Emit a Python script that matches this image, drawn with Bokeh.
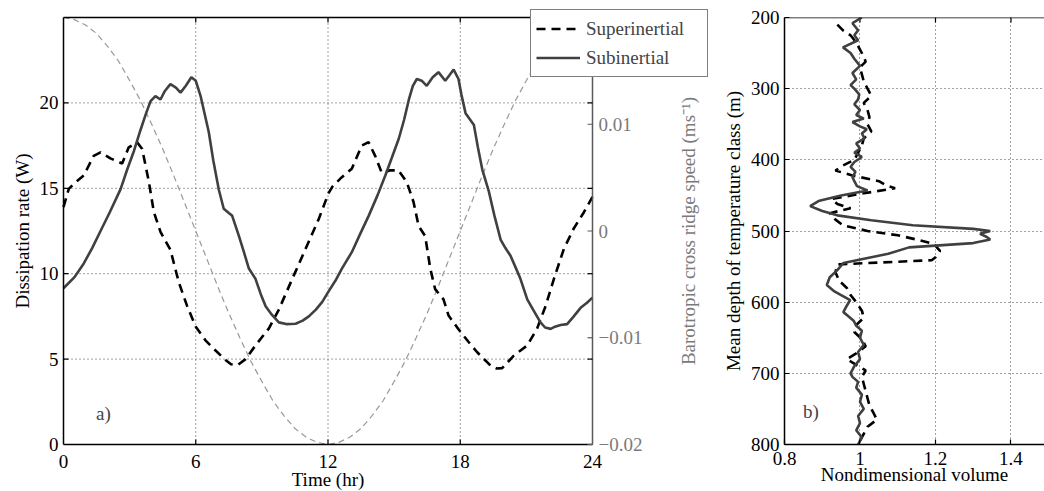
import math
from bokeh.plotting import figure
from bokeh.layouts import row
from bokeh.models import (Range1d, FixedTicker, CustomJSTickFormatter,
                          Legend, LegendItem, Label, Span)
from bokeh.core.properties import value
from bokeh.embed import file_html
from bokeh.resources import INLINE

# ---------------- data: panel a ----------------
sub_t = [0, 0.5, 0.92, 1.3, 1.68, 2.1, 2.59, 2.89, 3.2, 3.49, 3.75, 3.95, 4.17, 4.4, 4.6,
         4.85, 5.1, 5.31, 5.55, 5.8, 6.0, 6.22, 6.59, 6.8, 7.05, 7.27, 7.5, 7.65, 7.96, 8.2,
         8.41, 8.71, 8.95, 9.17, 9.45, 9.77, 10.1, 10.53, 10.85, 11.13, 11.45, 11.74, 12.02,
         12.34, 12.63, 13.08, 13.45, 13.85, 14.25, 14.6, 14.9, 15.21, 15.45, 15.67, 15.85,
         16.03, 16.25, 16.48, 16.75, 17.01, 17.32, 17.5, 17.7, 17.92, 18.05, 18.24, 18.62,
         18.8, 19.0, 19.3, 19.55, 19.83, 20.05, 20.28, 20.5, 20.73, 21.04, 21.35, 21.64,
         21.85, 22.1, 22.3, 22.55, 22.85, 23.15, 23.46, 23.75, 24.0]
sub_w = [9.15, 9.8, 10.6, 11.5, 12.5, 13.6, 14.95, 16.1, 17.2, 18.4, 19.4, 20.1, 20.4, 20.2, 20.7,
         21.1, 20.9, 20.6, 21.0, 21.5, 21.3, 20.4, 18.3, 16.6, 14.9, 13.8, 13.55, 13.4, 12.2, 11.2,
         10.3, 9.7, 8.8, 8.1, 7.6, 7.15, 7.05, 7.07, 7.25, 7.5, 7.9, 8.35, 8.95,
         9.6, 10.3, 11.26, 12.3, 13.4, 14.6, 15.75, 16.8, 17.9, 19.0, 20.2, 21.0,
         21.4, 21.3, 21.0, 21.5, 21.8, 21.3, 21.6, 21.95, 21.4, 20.5, 19.4, 18.7,
         17.4, 16.1, 14.8, 13.4, 12.0, 11.5, 11.05, 10.4, 9.7, 8.5, 7.8, 7.15,
         6.85, 6.77, 6.9, 7.0, 7.05, 7.5, 8.0, 8.3, 8.6]

sup_t = [0, 0.24, 0.5, 0.92, 1.37, 1.68, 2.13, 2.66, 2.96, 3.34, 3.57, 3.87, 4.1, 4.4, 4.85,
         5.23, 5.61, 6.0, 6.44, 6.9, 7.35, 7.6, 7.9, 8.26, 8.71, 9.32, 9.77, 10.38, 10.98,
         11.58, 12.02, 12.2, 12.63, 13.08, 13.53, 13.84, 14.14, 14.44, 14.82, 15.2, 15.58,
         15.88, 16.11, 16.41, 16.64, 16.86, 17.24, 17.47, 17.92, 18.38, 18.77, 19.37, 19.65,
         19.9, 20.43, 21.04, 21.49, 21.87, 22.25, 22.7, 23.15, 23.61, 24.0]
sup_w = [13.9, 14.97, 15.3, 15.75, 16.9, 17.1, 16.75, 16.45, 17.4, 17.7, 17.3, 15.4, 13.6, 12.45, 11.4,
         9.5, 8.1, 6.9, 6.1, 5.5, 4.95, 4.7, 4.65, 5.0, 5.8, 6.8, 7.9, 9.7, 11.45,
         13.2, 14.7, 15.1, 15.65, 16.15, 17.5, 17.7, 16.9, 15.9, 16.05, 16.05, 15.35,
         14.2, 12.8, 12.2, 10.3, 9.1, 8.5, 7.55, 6.75, 6.0, 5.4, 4.63, 4.45,
         4.47, 5.2, 5.8, 6.8, 8.1, 9.7, 11.45, 12.65, 13.6, 14.5]

speed_t = [0, 0.5, 1, 1.5, 2, 2.5, 3, 3.5, 4, 4.5, 5, 5.5, 6, 6.5, 7, 7.5, 8, 8.5, 9, 9.5, 10,
           10.5, 11, 11.5, 12, 12.5, 13, 13.5, 14, 14.5, 15, 15.5, 16, 16.5, 17, 17.5, 18,
           18.5, 19, 19.5, 20, 20.5, 21, 21.5, 22, 22.5, 23, 23.5, 24]
speed_v = [0.0200, 0.0198, 0.0193, 0.0185, 0.0173, 0.0159, 0.0141, 0.0122, 0.0100, 0.0077,
           0.0052, 0.0026, 0.0, -0.0026, -0.0052, -0.0077, -0.0100, -0.0122, -0.0141, -0.0159,
           -0.0173, -0.0185, -0.0193, -0.0198, -0.0200, -0.0198, -0.0193, -0.0185, -0.0173,
           -0.0159, -0.0141, -0.0122, -0.0100, -0.0077, -0.0052, -0.0026, 0.0, 0.0026, 0.0052,
           0.0077, 0.0100, 0.0122, 0.0141, 0.0159, 0.0173, 0.0185, 0.0193, 0.0198, 0.0200]

time_ticks = [0, 6, 12, 18, 24]
time_tick_labels = ["0", "6", "12", "18", "24"]
diss_ticks = [0, 5, 10, 15, 20]
diss_tick_labels = ["0", "5", "10", "15", "20"]
speed_ticks = [-0.02, -0.01, 0, 0.01]
speed_tick_labels = ["\u22120.02", "\u22120.01", "0", "0.01"]
TIME_LIM = (0, 24)
DISS_LIM = (0, 25)
SPEED_LIM = (-0.02, 0.02)

# ---------------- data: panel b ----------------
sub_depth = [200, 208, 218, 225, 232, 242, 250, 258, 268, 278, 287, 295, 300, 308, 315, 322, 330,
             337, 342, 347, 353, 357, 363, 370, 377, 384, 390, 396, 403, 410, 417, 424, 430, 437,
             443, 450, 458, 465, 472, 478, 485, 492, 497, 500, 504, 508, 512, 517, 523, 532, 545,
             555, 565, 576, 584, 590, 597, 605, 614, 620, 626, 633, 640, 650, 660, 670, 680, 690,
             700, 705, 712, 720, 730, 740, 750, 760, 770, 780, 790, 800]
sub_vol = [1.005, 0.98, 0.995, 0.985, 0.995, 0.955, 0.975, 0.985, 1.0, 0.98, 0.99, 0.975, 0.985,
           0.998, 0.995, 0.985, 1.0, 0.99, 1.01, 0.98, 1.0, 1.018, 1.005, 1.012, 0.99, 1.0, 0.985,
           1.005, 0.985, 0.975, 0.988, 0.98, 0.985, 0.992, 1.02, 0.95, 0.89, 0.868, 0.9, 0.94,
           1.03, 1.14, 1.30, 1.345, 1.318, 1.335, 1.345, 1.30, 1.13, 1.075, 0.956, 0.94, 0.92,
           0.912, 0.93, 0.95, 0.974, 0.965, 0.956, 0.97, 0.983, 0.99, 1.005, 1.0, 1.01, 0.995,
           1.0, 0.985, 0.975, 0.98, 0.995, 0.99, 1.005, 1.0, 1.01, 0.995, 1.0, 0.99, 1.005, 0.995]

sup_depth = [210, 218, 225, 235, 245, 255, 262, 270, 280, 290, 300, 310, 320, 330, 340, 350, 360,
             370, 380, 390, 400, 408, 415, 422, 430, 436, 440, 447, 455, 462, 468, 475, 484, 492,
             500, 506, 512, 518, 528, 537, 541, 547, 558, 570, 580, 590, 600, 612, 622, 632, 642,
             652, 662, 672, 680, 688, 696, 705, 715, 725, 735, 745, 755, 765, 775, 785, 795, 800]
sup_vol = [0.94, 0.955, 0.975, 0.99, 1.0, 1.01, 1.015, 1.0, 1.005, 1.01, 1.02, 1.03, 1.01, 1.02,
           1.025, 1.02, 1.03, 1.01, 1.005, 0.995, 0.985, 0.955, 0.935, 0.98, 1.05, 1.07, 1.093,
           1.01, 0.925, 0.94, 0.975, 0.92, 0.935, 0.955, 1.02, 1.1, 1.15, 1.195, 1.212, 1.2, 1.19,
           0.94, 0.935, 0.945, 0.965, 0.975, 0.99, 1.005, 1.01, 0.99, 0.985, 1.005, 1.015, 0.99,
           0.965, 0.99, 1.015, 1.005, 1.01, 1.015, 1.02, 1.025, 1.035, 1.045, 1.02, 1.01, 1.0, 1.0]

vol_ticks = [0.8, 1.0, 1.2, 1.4]
depth_ticks = [200, 300, 400, 500, 600, 700, 800]

# ---------------- styling ----------------
FONT = "Liberation Serif"
FS = "19px"
SUB_COLOR = "#404040"
SPEED_COLOR = "#999999"
AXIS_GRAY = "#7a7a7a"
RAXIS_LINE = "#5a5a5a"
GRID_COLOR = "#444444"
GRID_DASH = "1 3"
TICK_LEN = 5


def style_axis(ax, color="black", label_color="black"):
    ax.major_label_text_font = FONT
    ax.major_label_text_font_size = FS
    ax.major_label_text_color = label_color
    ax.axis_label_text_font = FONT
    ax.axis_label_text_font_size = FS
    ax.axis_label_text_font_style = "normal"
    ax.axis_label_text_color = label_color
    ax.axis_line_color = color
    ax.axis_line_width = 1.5
    ax.major_tick_line_color = color
    ax.major_tick_line_width = 1.2
    ax.major_tick_in = TICK_LEN
    ax.major_tick_out = 0
    ax.minor_tick_line_color = None


def txt(p, x, y, text, **kw):
    opts = dict(text_font=value(FONT), text_font_size=value(FS), text_color="black",
                text_align="center", text_baseline="middle")
    opts.update(kw)
    return p.text(x=x, y=y, text=text, **opts)


# ---------------- panel a ----------------
# The frame covers the whole canvas (so the legend that overlaps the right-axis
# area is not clipped); the axes box and all of its axes are drawn with glyphs.
WL, HL = 715, 491
BOX_L, BOX_R, BOX_T, BOX_B = 63, 592, 17, 444          # pixel geometry of the axes box
px_x = (BOX_R - BOX_L) / (TIME_LIM[1] - TIME_LIM[0])
px_y = (BOX_B - BOX_T) / (DISS_LIM[1] - DISS_LIM[0])
px_s = (BOX_B - BOX_T) / (SPEED_LIM[1] - SPEED_LIM[0])
x_rng = Range1d(TIME_LIM[0] - BOX_L / px_x, TIME_LIM[1] + (WL - BOX_R) / px_x)
y_rng = Range1d(DISS_LIM[0] - (HL - BOX_B) / px_y, DISS_LIM[1] + BOX_T / px_y)
s_rng = Range1d(SPEED_LIM[0] - (HL - BOX_B) / px_s, SPEED_LIM[1] + BOX_T / px_s)

pL = figure(width=WL, height=HL, x_range=x_rng, y_range=y_rng,
            x_axis_location=None, y_axis_location=None,
            output_backend="svg", toolbar_location=None,
            min_border_left=0, min_border_right=0, min_border_top=0, min_border_bottom=0)
pL.frame_align = False
pL.extra_y_ranges = {"speed": s_rng}
pL.outline_line_color = None
pL.background_fill_color = "white"
pL.border_fill_color = "white"
pL.xgrid.visible = False
pL.ygrid.visible = False

# dotted grid inside the axes box
pL.segment(x0=time_ticks[1:-1], y0=DISS_LIM[0], x1=time_ticks[1:-1], y1=DISS_LIM[1],
           line_color=GRID_COLOR, line_dash=GRID_DASH, line_width=1)
pL.segment(x0=TIME_LIM[0], y0=diss_ticks[1:], x1=TIME_LIM[1], y1=diss_ticks[1:],
           line_color=GRID_COLOR, line_dash=GRID_DASH, line_width=1)

# data
pL.line(speed_t, speed_v, y_range_name="speed", line_color=SPEED_COLOR,
        line_width=1.2, line_dash="6 4")
r_sup = pL.line(sup_t, sup_w, line_color="black", line_width=2.6, line_dash="9 6")
r_sub = pL.line(sub_t, sub_w, line_color=SUB_COLOR, line_width=2.6)

# box edges (left, bottom, top in black; right = speed axis in gray)
pL.segment(x0=[TIME_LIM[0], TIME_LIM[0], TIME_LIM[0]],
           y0=[DISS_LIM[0], DISS_LIM[0], DISS_LIM[1]],
           x1=[TIME_LIM[0], TIME_LIM[1], TIME_LIM[1]],
           y1=[DISS_LIM[1], DISS_LIM[0], DISS_LIM[1]],
           line_color="black", line_width=1.5)
pL.segment(x0=TIME_LIM[1], y0=DISS_LIM[0], x1=TIME_LIM[1], y1=DISS_LIM[1],
           line_color=RAXIS_LINE, line_width=1.5)

# inward ticks
pL.ray(x=time_ticks[1:-1], y=DISS_LIM[0], length=TICK_LEN, length_units="screen",
       angle=math.pi / 2, line_color="black", line_width=1.2)
pL.ray(x=time_ticks[1:-1], y=DISS_LIM[1], length=TICK_LEN, length_units="screen",
       angle=-math.pi / 2, line_color="black", line_width=1.2)
pL.ray(x=TIME_LIM[0], y=diss_ticks[1:], length=TICK_LEN, length_units="screen",
       angle=0, line_color="black", line_width=1.2)
pL.ray(x=TIME_LIM[1], y=diss_ticks[1:], length=TICK_LEN, length_units="screen",
       angle=math.pi, line_color="black", line_width=1.2)
pL.ray(x=TIME_LIM[1], y=speed_ticks, length=TICK_LEN, length_units="screen", angle=math.pi,
       line_color=RAXIS_LINE, line_width=1.2, y_range_name="speed")

# tick labels and axis titles
txt(pL, time_ticks, DISS_LIM[0], time_tick_labels, y_offset=17)
txt(pL, [sum(TIME_LIM) / 2], [DISS_LIM[0]], ["Time (hr)"], y_offset=35)
txt(pL, TIME_LIM[0], diss_ticks, diss_tick_labels, x_offset=-5, text_align="right")
txt(pL, [TIME_LIM[0]], [sum(DISS_LIM) / 2], ["Dissipation rate (W)"], x_offset=-41,
    angle=math.pi / 2)
txt(pL, TIME_LIM[1], speed_ticks, speed_tick_labels, x_offset=6, text_align="left",
    text_color=AXIS_GRAY, y_range_name="speed")
txt(pL, [TIME_LIM[1]], [0.0], ["Barotropic cross ridge speed (ms\u207b\u00b9)"],
    x_offset=96, angle=math.pi / 2, text_color=AXIS_GRAY, y_range_name="speed")

pL.add_layout(Label(x=1.81, y=1.8, text="a)", text_font=FONT, text_font_size=FS,
                    text_align="center", text_baseline="middle"))

legend = Legend(items=[LegendItem(label="Superinertial", renderers=[r_sup]),
                       LegendItem(label="Subinertial", renderers=[r_sub])],
                location=(530, 414), margin=0, padding=5, spacing=2,
                glyph_width=44, glyph_height=27, label_height=27, label_standoff=6,
                label_width=116,
                label_text_font=FONT, label_text_font_size=FS,
                border_line_color="black", border_line_width=1,
                background_fill_color="white", background_fill_alpha=1.0)
pL.add_layout(legend, "center")

# ---------------- panel b ----------------
pR = figure(width=329, height=491, x_range=Range1d(0.8, 1.4888), y_range=Range1d(800, 200),
            output_backend="svg", toolbar_location=None,
            min_border_left=69, min_border_right=0, min_border_top=17, min_border_bottom=47)
pR.frame_align = False
pR.outline_line_color = None
pR.background_fill_color = "white"
pR.border_fill_color = "white"
pR.xaxis.ticker = FixedTicker(ticks=vol_ticks)
pR.xaxis.formatter = CustomJSTickFormatter(code="return tick.toFixed(1).replace(/\\.0$/, '');")
pR.yaxis.ticker = FixedTicker(ticks=depth_ticks)
pR.xaxis.axis_label = "Nondimensional volume"
pR.yaxis.axis_label = "Mean depth of temperature class (m)"
for ax in pR.xaxis + pR.yaxis:
    style_axis(ax)
pR.xaxis.major_label_standoff = 7
pR.xaxis.axis_label_standoff = -4
pR.yaxis.major_label_standoff = 5
pR.yaxis.axis_label_standoff = 4
for g in (pR.xgrid, pR.ygrid):
    g.grid_line_color = GRID_COLOR
    g.grid_line_dash = GRID_DASH
    g.grid_line_width = 1
pR.add_layout(Span(location=depth_ticks[0], dimension="width", line_color="black", line_width=1.5))
pR.ray(x=vol_ticks[1:], y=depth_ticks[0], length=TICK_LEN, length_units="screen",
       angle=-math.pi / 2, line_color="black", line_width=1.2)

pR.line(sup_vol, sup_depth, line_color="black", line_width=2.6, line_dash="9 6")
pR.line(sub_vol, sub_depth, line_color=SUB_COLOR, line_width=2.6)
pR.add_layout(Label(x=0.87, y=753, text="b)", text_font=FONT, text_font_size=FS,
                    text_align="center", text_baseline="middle"))

layout = row(pL, pR)
open("out.html", "w").write(file_html(layout, INLINE))
